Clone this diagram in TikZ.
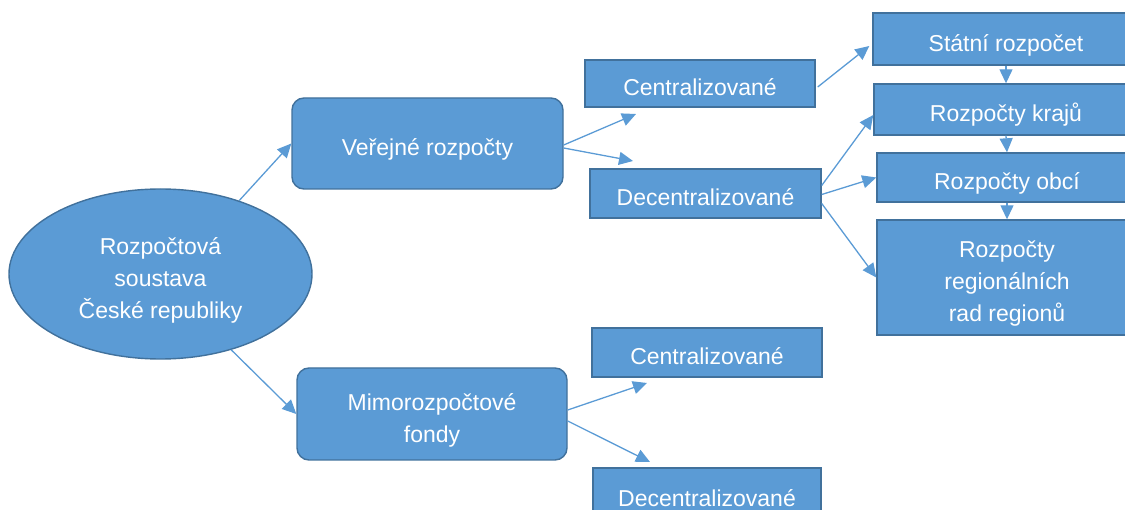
\documentclass[tikz,border=0pt]{standalone}
\usepackage{fontspec}
\setmainfont{Liberation Sans}
\usetikzlibrary{shapes.geometric,arrows.meta,calc}
\definecolor{boxfill}{HTML}{5B9BD5}
\definecolor{boxline}{HTML}{41719C}
\definecolor{arrowc}{HTML}{5B9BD5}
\newcommand\myTop{\rule{0pt}{31pt}}
\newcommand\myBot{\rule[-6pt]{0pt}{6pt}}
\begin{document}
\begin{tikzpicture}[x=1pt,y=-1pt,
  every node/.style={font=\fontsize{23}{32}\selectfont, text=white, inner sep=0pt, align=center},
  rbox/.style={draw=boxline, fill=boxfill, line width=1.4pt, rounded corners=12pt},
  sbox/.style={draw=boxline, fill=boxfill, line width=1.4pt},
  oval/.style={ellipse, draw=boxline, fill=boxfill, line width=1.4pt},
  conn/.style={draw=arrowc, line width=1.3pt, -{Triangle[length=14pt,width=13pt]}}
]
\useasboundingbox (0,0) rectangle (1125,510);
\clip (0,0) rectangle (1125,510);

\node[oval, minimum width=303pt, minimum height=170pt] (root) at (160.5,274) {\myTop Rozpočtová\\soustava\\\myBot České republiky};
\node[rbox, minimum width=271pt, minimum height=91pt] (verej) at (427.5,143.5) {\myTop\myBot Veřejné rozpočty};
\node[rbox, minimum width=270pt, minimum height=92pt] (mimo) at (432,414) {\myTop Mimorozpočtové\\\myBot fondy};

\node[sbox, minimum width=230pt, minimum height=47pt] (cent1) at (700,83.5) {\myTop\myBot Centralizované};
\node[sbox, minimum width=231pt, minimum height=49pt] (dec1) at (705.5,193.5) {\myTop\myBot Decentralizované};
\node[sbox, minimum width=230pt, minimum height=49pt] (cent2) at (707,352.5) {\myTop\myBot Centralizované};
\node[sbox, minimum width=228pt, minimum height=52pt] (dec2) at (707,494) {\myTop\myBot Decentralizované};

\node[sbox, minimum width=266pt, minimum height=52pt] (statni) at (1006,39) {\myTop\myBot Státní rozpočet};
\node[sbox, minimum width=264pt, minimum height=51pt] (kraje) at (1006,109.5) {\myTop\myBot Rozpočty krajů};
\node[sbox, minimum width=260pt, minimum height=49pt] (obci) at (1007,177.5) {\myTop\myBot Rozpočty obcí};
\node[sbox, minimum width=260pt, minimum height=115pt] (region) at (1007,277.5) {\myTop Rozpočty\\regionálních\\\myBot rad regionů};

\coordinate (c1) at (636,114);
\coordinate (c2) at (633,161);
\coordinate (c3) at (647,383);
\coordinate (c4) at (650,462);

\draw[conn] (root.43) -- (verej.west);
\draw[conn] (root.-47) -- (mimo.west);
\draw[conn] ($(verej.east)+(0,1.5)$) -- (c1);
\draw[conn] ($(verej.east)+(0,4.5)$) -- (c2);
\draw[conn] ($(mimo.east)+(0,-4)$) -- (c3);
\draw[conn] ($(mimo.east)+(0,7)$) -- (c4);
\draw[conn] ($(cent1.east)+(2,3.5)$) -- ($(statni.west)+(-3,7)$);
\draw[conn] ($(dec1.east)+(0,-8)$) -- ($(kraje.west)+(0,5.5)$);
\draw[conn] ($(dec1.east)+(0,1)$) -- (obci.west);
\draw[conn] ($(dec1.east)+(0,10)$) -- (region.west);
\draw[conn] (statni.south) -- (kraje.north);
\draw[conn] (kraje.south) -- (obci.north);
\draw[conn] (obci.south) -- (region.north);
\end{tikzpicture}
\end{document}
